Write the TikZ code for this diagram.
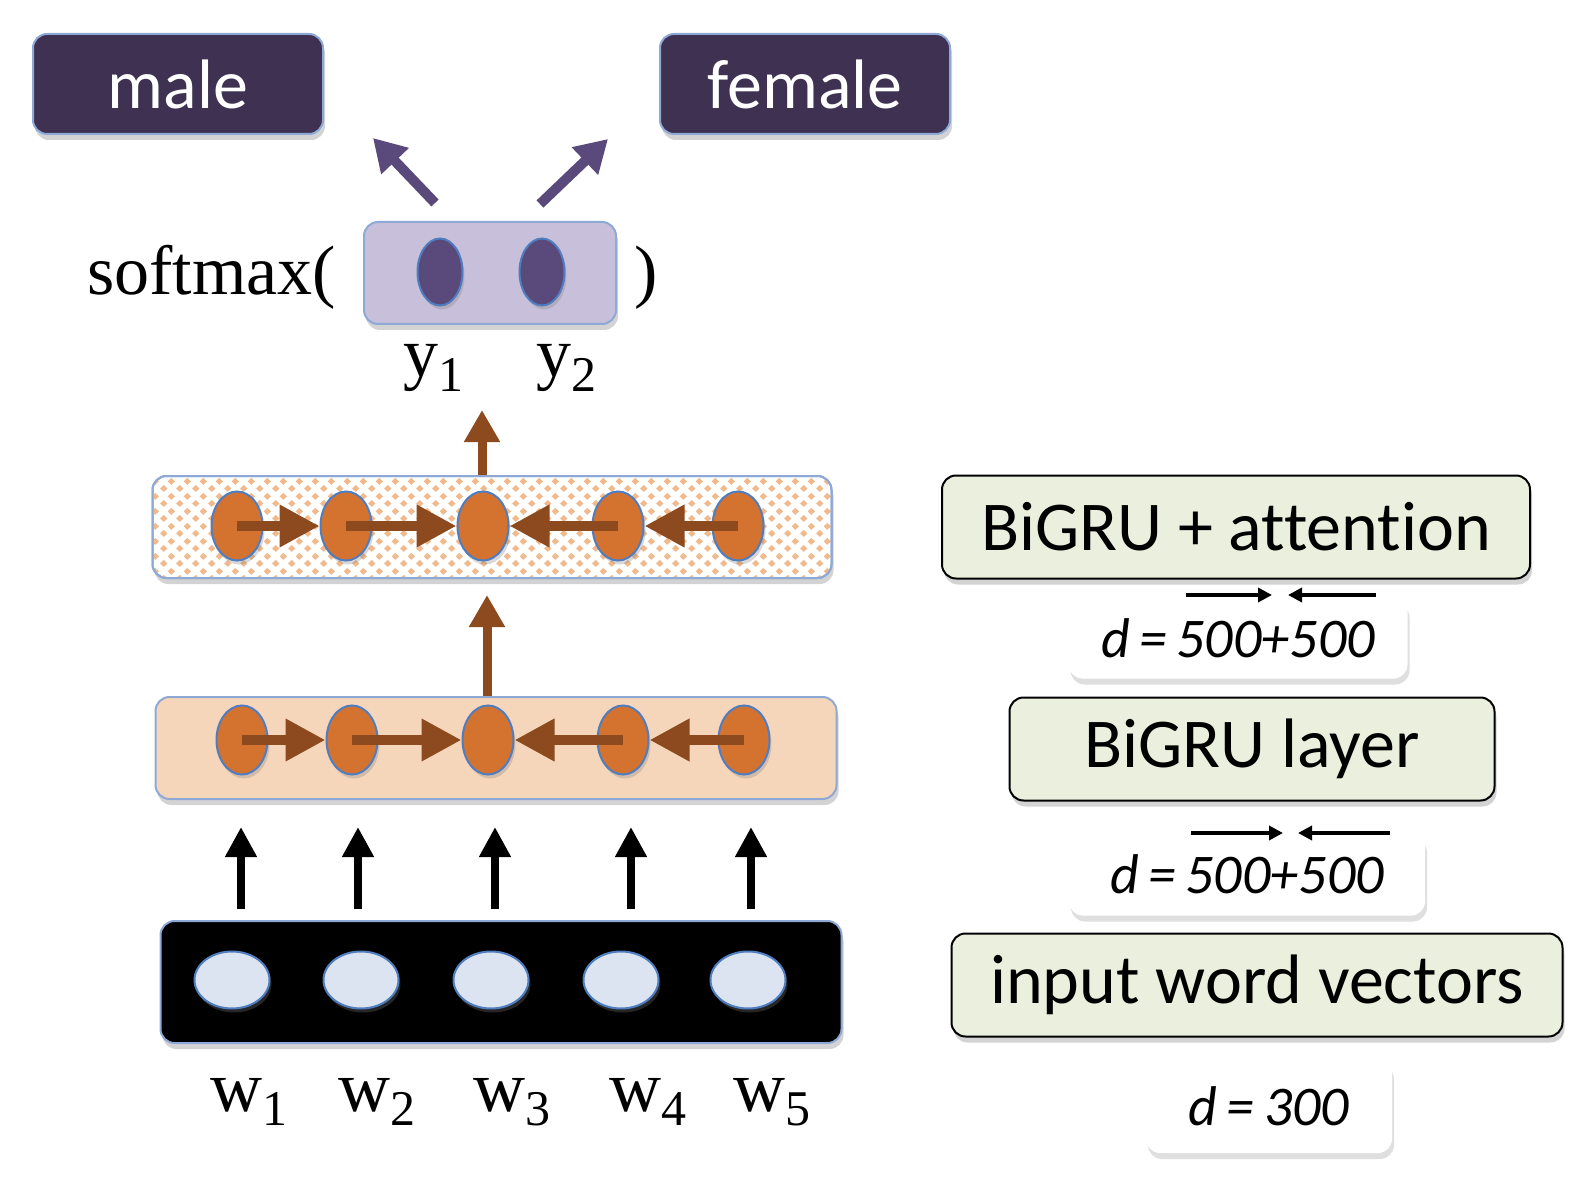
\documentclass[tikz,border=0pt]{standalone}
\usepackage{fontspec}
\setmainfont{Liberation Serif}
\newfontfamily\calfont[Ligatures=NoCommon]{Carlito}
\usetikzlibrary{arrows.meta,shapes.geometric,shadows,patterns,calc}
\definecolor{darkplum}{HTML}{3E3152}
\definecolor{plum}{HTML}{5A4A7B}
\definecolor{lilac}{HTML}{C8C0DA}
\definecolor{edgeblue}{HTML}{8EA9D6}
\definecolor{ringblue}{HTML}{4F7DC0}
\definecolor{rust}{HTML}{8C4A1E}
\definecolor{pumpkin}{HTML}{D4722F}
\definecolor{peach}{HTML}{F6D6BA}
\definecolor{apricot}{HTML}{F0BA8C}
\definecolor{sage}{HTML}{EBF0DE}
\definecolor{pale}{HTML}{DDE4F1}
\pgfdeclarepatternformonly{diamondgrid}{\pgfqpoint{0pt}{0pt}}{\pgfqpoint{8pt}{7.5pt}}{\pgfqpoint{8pt}{7.5pt}}{%
  \pgfpathmoveto{\pgfqpoint{2pt}{0.05pt}}\pgfpathlineto{\pgfqpoint{3.95pt}{1.875pt}}%
  \pgfpathlineto{\pgfqpoint{2pt}{3.7pt}}\pgfpathlineto{\pgfqpoint{0.05pt}{1.875pt}}\pgfpathclose
  \pgfpathmoveto{\pgfqpoint{6pt}{3.8pt}}\pgfpathlineto{\pgfqpoint{7.95pt}{5.625pt}}%
  \pgfpathlineto{\pgfqpoint{6pt}{7.45pt}}\pgfpathlineto{\pgfqpoint{4.05pt}{5.625pt}}\pgfpathclose
  \pgfusepath{fill}}
\newcommand\lowsub[1]{\raisebox{-7pt}{\fontsize{25}{25}\selectfont #1}}
\tikzset{
  softshadow/.style={drop shadow={opacity=.35,shadow xshift=1pt,shadow yshift=-3pt}},
  classbox/.style={draw=edgeblue,line width=1pt,fill=darkplum,rounded corners=7pt,
    minimum width=145pt,minimum height=50pt,text=white,
    font=\calfont\fontsize{35}{40}\selectfont,softshadow},
  layerbox/.style={draw=edgeblue,line width=1pt,rounded corners=7pt,inner sep=0pt,softshadow},
  unit/.style={ellipse,draw=ringblue,line width=1pt,inner sep=0pt,
    drop shadow={opacity=.3,shadow xshift=1pt,shadow yshift=-2pt}},
  infobox/.style={draw=black,line width=1pt,fill=sage,rounded corners=7pt,
    font=\calfont\fontsize{35}{40}\selectfont,softshadow},
  dimbox/.style={fill=white,rounded corners=7pt,
    font=\calfont\itshape\fontsize{28}{32}\selectfont,
    drop shadow={opacity=.25,shadow xshift=1pt,shadow yshift=-3pt}},
  serif/.style={font=\fontsize{35}{40}\selectfont},
  plumarrow/.style={plum,line width=5pt,-{Triangle[length=16pt,width=18pt]}},
  rowarrow/.style={rust,line width=5pt,-{Triangle[length=20pt,width=20pt]}},
  rustup/.style={rust,line width=4.5pt,-{Triangle[length=16pt,width=17pt]}},
  blackup/.style={black,line width=4pt,-{Triangle[length=15pt,width=15pt]}},
  dimarrow/.style={black,line width=2pt,-{Triangle[length=7pt,width=7pt]}}
}
\begin{document}
\begin{tikzpicture}[x=0.5pt,y=-0.5pt]
\useasboundingbox (0,0) rectangle (1596,1182);

% classes
\node[classbox] (male) at (178,84) {male};
\node[classbox] (female) at (805,84) {female};
\coordinate (pl0) at (435,203); \coordinate (pl1) at (373,138);
\coordinate (pr0) at (540,204); \coordinate (pr1) at (608,139);
\draw[plumarrow] (pl0) -- (pl1);
\draw[plumarrow] (pr0) -- (pr1);

% softmax output
\node[layerbox,fill=lilac,minimum width=126pt,minimum height=51pt] (outbox) at (490,273) {};
\node[unit,fill=plum,minimum width=22.5pt,minimum height=33.5pt] (y1) at (440,272) {};
\node[unit,fill=plum,minimum width=22.5pt,minimum height=33.5pt] (y2) at (542,272) {};
\node[serif,anchor=base east] (smx) at (343,295) {softmax(};
\node[serif,anchor=base west] (smxr) at (627,295) {)};
\node[serif,anchor=base] (ly1) at (433,377) {y\lowsub{1}};
\node[serif,anchor=base] (ly2) at (566,377) {y\lowsub{2}};

% attention layer
\coordinate (up1) at (482,410);
\draw[rustup] (up1 |- 0,476) -- (up1);
\node[layerbox,fill=white,minimum width=339.5pt,minimum height=51pt,
  postaction={pattern=diamondgrid,pattern color=apricot},
  postaction={draw=edgeblue,line width=1pt}] (att) at (492,527) {};
\foreach \x [count=\i] in {237,346,483,618,738}
  \node[unit,fill=pumpkin,minimum width=25.5pt,minimum height=34.5pt] (a\i) at (\x,526) {};
\foreach \a/\b/\s in {a1/a2/west,a2/a3/west,a5/a4/east,a4/a3/east}
  \draw[rowarrow] (\a.center) -- (\b.\s);

% BiGRU layer
\coordinate (up2) at (487,595);
\node[layerbox,fill=peach,minimum width=340.5pt,minimum height=51pt] (gru) at (496,748) {};
\draw[rustup] (gru.north -| up2) -- (up2);
\foreach \x [count=\i] in {242,352,488,623,744}
  \node[unit,fill=pumpkin,minimum width=25.5pt,minimum height=34.5pt] (g\i) at (\x,740) {};
\foreach \a/\b/\s in {g1/g2/west,g2/g3/west,g5/g4/east,g4/g3/east}
  \draw[rowarrow] (\a.center) -- (\b.\s);

% input layer
\node[layerbox,fill=black,minimum width=340.5pt,minimum height=61pt] (inp) at (501,982) {};
\foreach \x/\ax/\wx [count=\i] in {232/241/249,361/358/377,491/495/512,621/631/648,748/751/772}{
  \node[unit,fill=pale,minimum width=37.5pt,minimum height=28.5pt] (v\i) at (\x,980) {};
  \coordinate (ws\i) at (\ax,909);
  \coordinate (wt\i) at (\ax,827);
  \draw[blackup] (ws\i) -- (wt\i);
  \node[serif,font=\fontsize{36}{40}\selectfont,anchor=base] (w\i) at (\wx,1111) {w\lowsub{\i}};
}

% legend
\node[infobox,minimum width=294pt,minimum height=51.5pt] (rb1) at (1236,527) {BiGRU + attention};
\node[dimbox,minimum width=169.5pt,minimum height=40.5pt] (d1) at (1238,638) {d\,=\,500+500};
\coordinate (d1a) at (1186,595); \coordinate (d1b) at (1272,595);
\coordinate (d1c) at (1376,595); \coordinate (d1d) at (1288,595);
\draw[dimarrow] (d1a) -- (d1b);
\draw[dimarrow] (d1c) -- (d1d);
\node[infobox,minimum width=242.5pt,minimum height=51.5pt] (rb2) at (1252,749) {BiGRU layer};
\node[dimbox,minimum width=178pt,minimum height=41.5pt] (d2) at (1247,874) {d\,=\,500+500};
\coordinate (d2a) at (1191,833); \coordinate (d2b) at (1283,833);
\coordinate (d2c) at (1390,833); \coordinate (d2d) at (1298,833);
\draw[dimarrow] (d2a) -- (d2b);
\draw[dimarrow] (d2c) -- (d2d);
\node[infobox,minimum width=305.5pt,minimum height=51.5pt] (rb3) at (1257,985) {input word vectors};
\node[dimbox,minimum width=123pt,minimum height=47pt] (d3) at (1269,1106) {d\,=\,300};
\end{tikzpicture}
\end{document}
